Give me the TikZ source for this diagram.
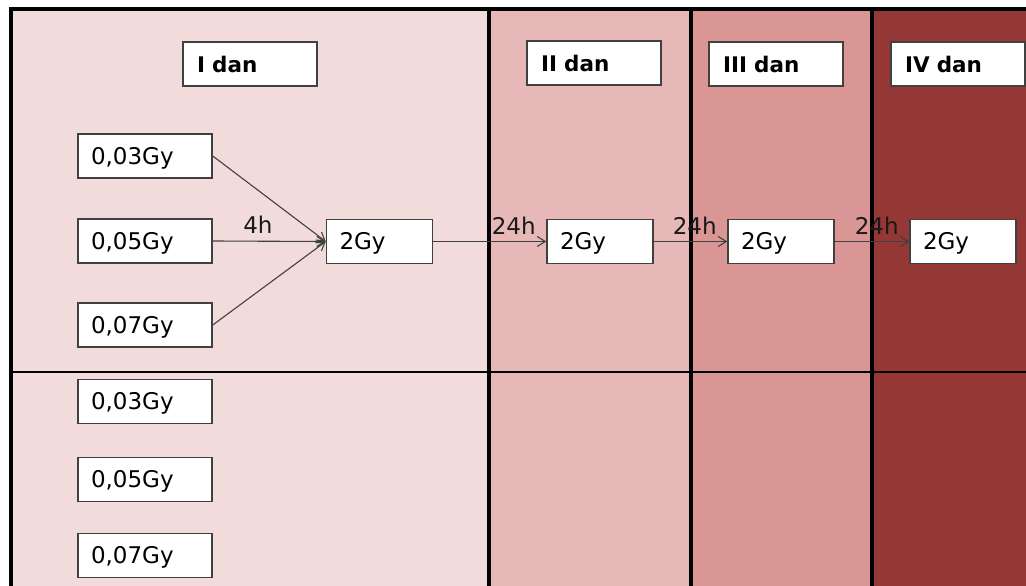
\documentclass[tikz,border=0pt]{standalone}
\usepackage{fontspec}
\setmainfont{DejaVu Sans}
\usetikzlibrary{arrows.meta}
\definecolor{colI}{HTML}{F2DCDB}
\definecolor{colII}{HTML}{E6B9B8}
\definecolor{colIII}{HTML}{D99694}
\definecolor{colIV}{HTML}{953735}
\definecolor{edgegray}{HTML}{404040}
\tikzset{
  basebox/.style={draw=edgegray, line width=1.5pt, fill=white, minimum height=44pt,
    inner ysep=0pt, align=left, text depth=0pt},
  headbox/.style={basebox, inner xsep=14pt, text width=106pt,
    font=\fontsize{21.5}{26}\selectfont\bfseries, text height=16.3pt},
  dosebox/.style={basebox, inner xsep=13pt, text width=108pt,
    font=\fontsize{23}{27}\selectfont, text height=16.8pt},
  gybox/.style={basebox, inner xsep=13pt, text width=80pt,
    font=\fontsize{23}{27}\selectfont, text height=16.8pt},
  arr/.style={draw=edgegray, line width=1.1pt, -{Straight Barb[length=8pt,width=10pt]}},
  lab/.style={font=\fontsize{23}{27}\selectfont, inner sep=0pt, text=black!90},
  lab24/.style={lab, pos=1, anchor=base east, xshift=-10pt, yshift=7pt},
  divider/.style={line width=3.2pt, black}
}
\begin{document}
\begin{tikzpicture}[x=1pt, y=-1pt]
\useasboundingbox (0,0) rectangle (1026,586);
% column fills
\fill[colI]   (11,9)  rectangle (489,586);
\fill[colII]  (489,9) rectangle (691,586);
\fill[colIII] (691,9) rectangle (872,586);
\fill[colIV]  (872,9) rectangle (1026,586);
% frame and dividers
\draw[divider, line join=miter] (11,586) -- (11,9) -- (1026,9);
\draw[divider] (489,9) -- (489,586);
\draw[divider] (691,9) -- (691,586);
\draw[divider] (872,9) -- (872,586);
\draw[line width=2.6pt] (11,372) -- (1026,372);
% headers
\node[headbox] (hI)   at (250,64)   {I dan};
\node[headbox] (hII)  at (594,63)   {II dan};
\node[headbox] (hIII) at (776,64)   {III dan};
\node[headbox] (hIV)  at (958,64)   {IV dan};
% dose boxes upper
\node[dosebox] (a1) at (145,156)   {0,03Gy};
\node[dosebox] (a2) at (145,241)   {0,05Gy};
\node[dosebox] (a3) at (145,325)   {0,07Gy};
% dose boxes lower
\node[dosebox] (b1) at (145,401.5) {0,03Gy};
\node[dosebox] (b2) at (145,479.5) {0,05Gy};
\node[dosebox] (b3) at (145,555.5) {0,07Gy};
% 2Gy boxes
\node[gybox] (g1) at (379.5,241.5) {2Gy};
\node[gybox] (g2) at (600,241.5)   {2Gy};
\node[gybox] (g3) at (781,241.5)   {2Gy};
\node[gybox] (g4) at (963,241.5)   {2Gy};
% connectors
\draw[arr] (a1.east) -- (g1.west);
\draw[arr] (a2.east) -- node[lab, pos=0.4, anchor=base, yshift=8pt] {4h} (g1.west);
\draw[arr] (a3.east) -- (g1.west);
\draw[arr] (g1.east) -- node[lab24] {24h} (g2.west);
\draw[arr] (g2.east) -- node[lab24] {24h} (g3.west);
\draw[arr] (g3.east) -- node[lab24] {24h} (g4.west);
\end{tikzpicture}
\end{document}
